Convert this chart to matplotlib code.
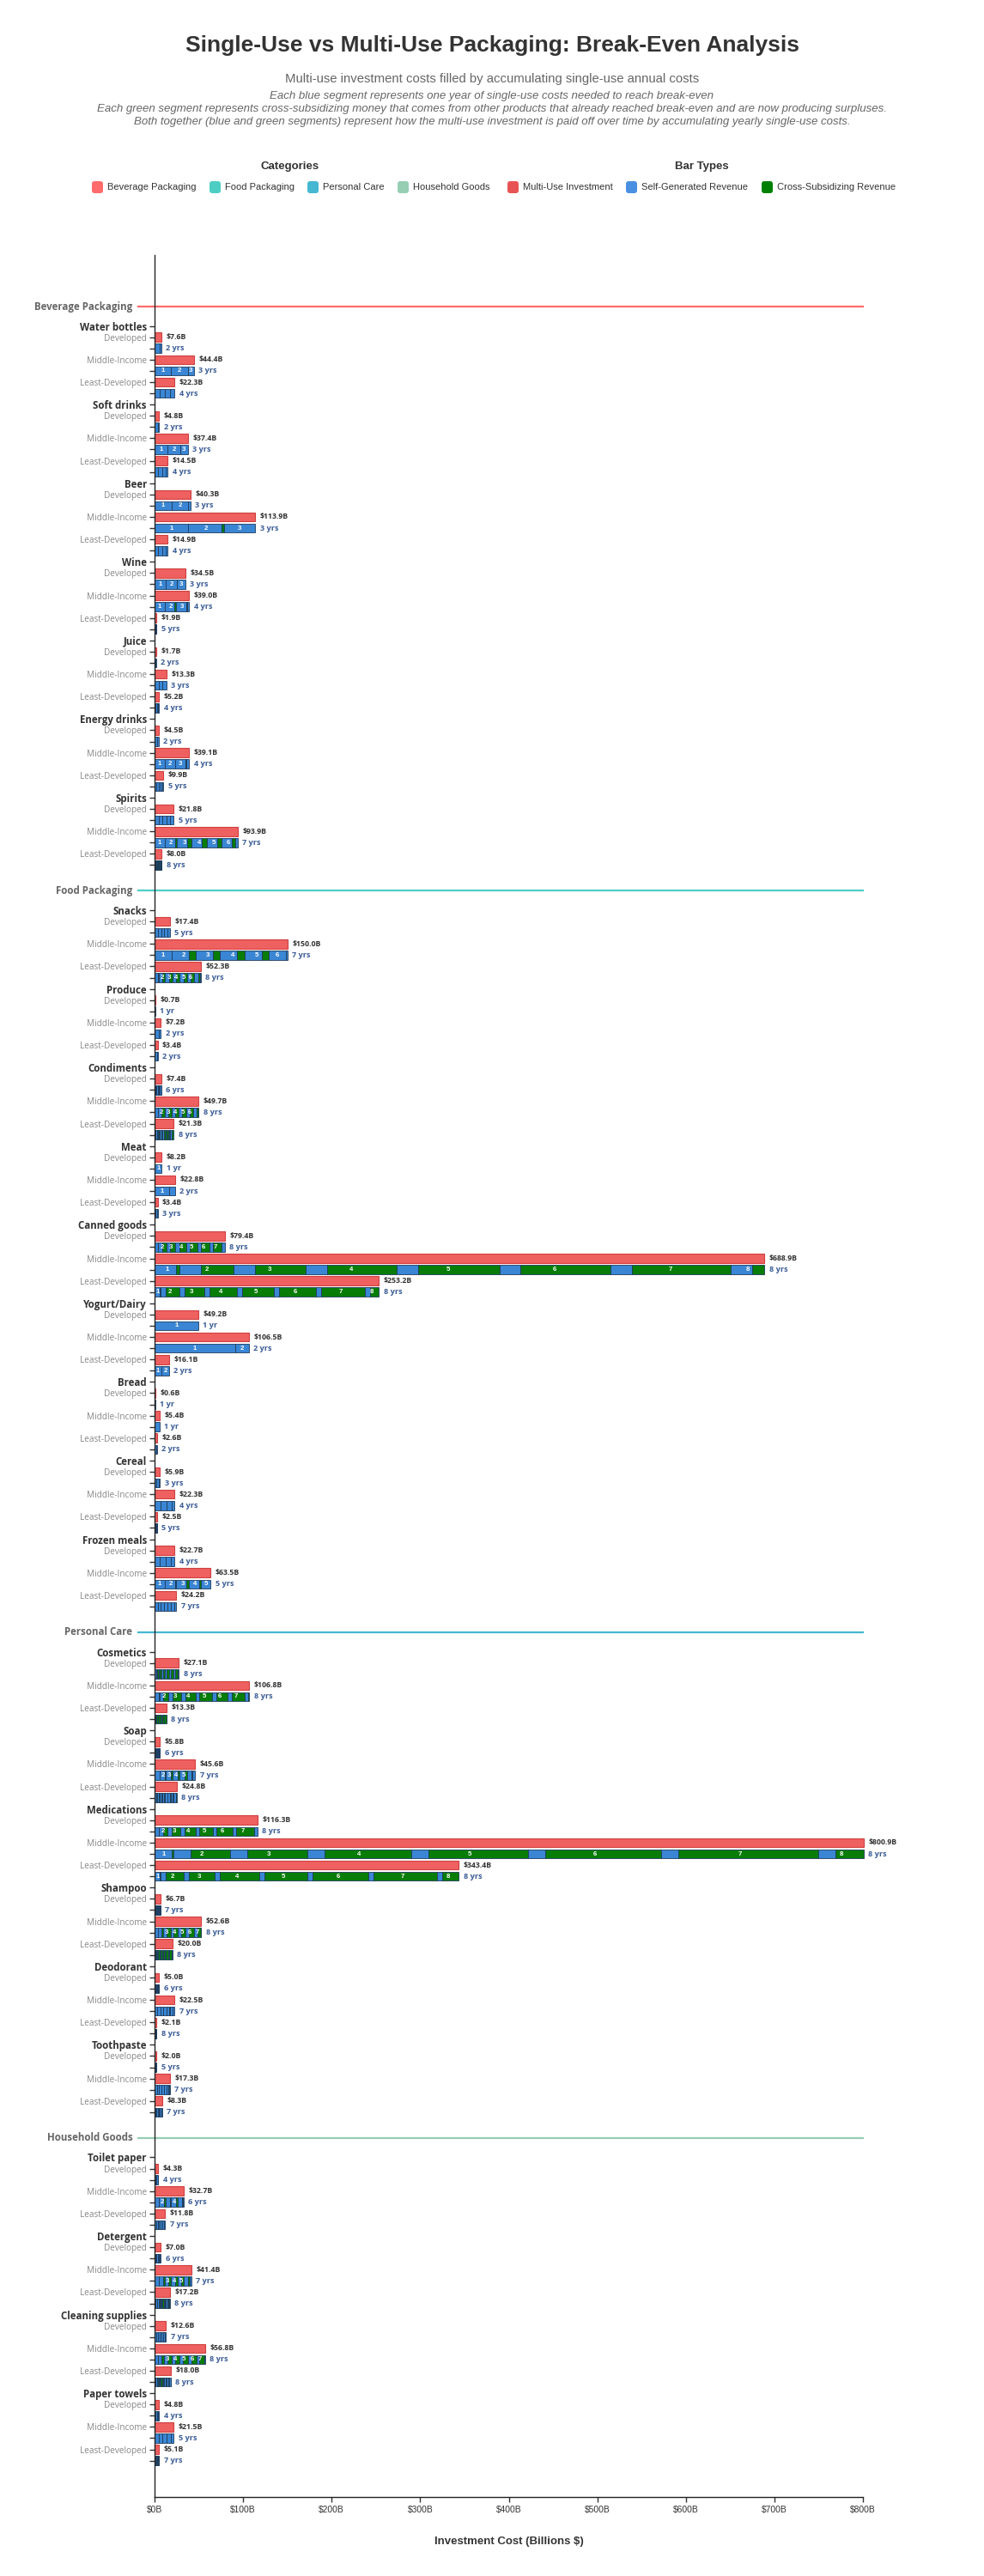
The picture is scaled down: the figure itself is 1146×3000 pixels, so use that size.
import matplotlib.pyplot as plt
from matplotlib.patches import FancyBboxPatch

categories = ['Beverage Packaging', 'Food Packaging', 'Personal Care', 'Household Goods']
category_colors = ['#FF6B6B', '#4ECDC4', '#45B7D1', '#96CEB4']
category_products = [
    ['Water bottles', 'Soft drinks', 'Beer', 'Wine', 'Juice', 'Energy drinks', 'Spirits'],
    ['Snacks', 'Produce', 'Condiments', 'Meat', 'Canned goods', 'Yogurt/Dairy', 'Bread',
     'Cereal', 'Frozen meals'],
    ['Cosmetics', 'Soap', 'Medications', 'Shampoo', 'Deodorant', 'Toothpaste'],
    ['Toilet paper', 'Detergent', 'Cleaning supplies', 'Paper towels'],
]
regions = ['Developed', 'Middle-Income', 'Least-Developed']

# multi-use investment, billions $ (Developed, Middle-Income, Least-Developed)
investment = {
    'Water bottles': [7.6, 44.4, 22.3], 'Soft drinks': [4.8, 37.4, 14.5],
    'Beer': [40.3, 113.9, 14.9], 'Wine': [34.5, 39.0, 1.9], 'Juice': [1.7, 13.3, 5.2],
    'Energy drinks': [4.5, 39.1, 9.9], 'Spirits': [21.8, 93.9, 8.0],
    'Snacks': [17.4, 150.0, 52.3], 'Produce': [0.7, 7.2, 3.4], 'Condiments': [7.4, 49.7, 21.3],
    'Meat': [8.2, 22.8, 3.4], 'Canned goods': [79.4, 688.9, 253.2],
    'Yogurt/Dairy': [49.2, 106.5, 16.1], 'Bread': [0.6, 5.4, 2.6], 'Cereal': [5.9, 22.3, 2.5],
    'Frozen meals': [22.7, 63.5, 24.2],
    'Cosmetics': [27.1, 106.8, 13.3], 'Soap': [5.8, 45.6, 24.8],
    'Medications': [116.3, 800.9, 343.4], 'Shampoo': [6.7, 52.6, 20.0],
    'Deodorant': [5.0, 22.5, 2.1], 'Toothpaste': [2.0, 17.3, 8.3],
    'Toilet paper': [4.3, 32.7, 11.8], 'Detergent': [7.0, 41.4, 17.2],
    'Cleaning supplies': [12.6, 56.8, 18.0], 'Paper towels': [4.8, 21.5, 5.1],
}

# years until break-even
break_even_years = {
    'Water bottles': [2, 3, 4], 'Soft drinks': [2, 3, 4], 'Beer': [3, 3, 4], 'Wine': [3, 4, 5],
    'Juice': [2, 3, 4], 'Energy drinks': [2, 4, 5], 'Spirits': [5, 7, 8],
    'Snacks': [5, 7, 8], 'Produce': [1, 2, 2], 'Condiments': [6, 8, 8], 'Meat': [1, 2, 3],
    'Canned goods': [8, 8, 8], 'Yogurt/Dairy': [1, 2, 2], 'Bread': [1, 1, 2], 'Cereal': [3, 4, 5],
    'Frozen meals': [4, 5, 7],
    'Cosmetics': [8, 8, 8], 'Soap': [6, 7, 8], 'Medications': [8, 8, 8], 'Shampoo': [7, 8, 8],
    'Deodorant': [6, 7, 8], 'Toothpaste': [5, 7, 7],
    'Toilet paper': [4, 6, 7], 'Detergent': [6, 7, 8], 'Cleaning supplies': [7, 8, 8],
    'Paper towels': [4, 5, 7],
}

# yearly single-use cost (blue segment), billions $
annual_single_use = {
    'Water bottles': [5.5, 18.7, 5.8], 'Soft drinks': [3.6, 14.5, 4.2], 'Beer': [19.1, 37.8, 4.3],
    'Wine': [12.8, 11.2, 0.4], 'Juice': [1.0, 4.6, 1.4], 'Energy drinks': [3.0, 11.6, 2.2],
    'Spirits': [4.4, 11.6, 0.6],
    'Snacks': [3.7, 19.4, 4.0], 'Produce': [0.8, 5.0, 2.5], 'Condiments': [1.1, 3.9, 1.2],
    'Meat': [9.0, 16.8, 1.3], 'Canned goods': [4.0, 23.8, 6.0], 'Yogurt/Dairy': [52.0, 91.2, 8.1],
    'Bread': [0.7, 6.0, 1.6], 'Cereal': [2.3, 6.6, 0.4], 'Frozen meals': [6.3, 11.6, 3.5],
    'Cosmetics': [1.5, 4.5, 0.5], 'Soap': [0.8, 5.5, 2.4], 'Medications': [4.5, 19.2, 5.8],
    'Shampoo': [0.8, 3.5, 1.0], 'Deodorant': [0.8, 3.2, 0.1], 'Toothpaste': [0.45, 2.6, 1.1],
    'Toilet paper': [1.2, 5.0, 1.7], 'Detergent': [1.2, 4.5, 1.2],
    'Cleaning supplies': [1.8, 3.8, 1.2], 'Paper towels': [1.3, 4.6, 0.5],
}

# cross-subsidy received each year (green segment), billions $
cross_subsidy = {
    'Beer': [[], [0, 2.5], []],
    'Wine': [[], [0, 2.2, 0.6], [0, 0.05, 0.05, 0.05]],
    'Energy drinks': [[], [0, 0, 0.8], [0, 0.05, 0.05, 0.05]],
    'Spirits': [[0, 0.05, 0.05, 0.05], [0, 2.0, 5.0, 5.5, 5.0, 4.5],
                [0, 0.2, 0.4, 0.5, 0.6, 0.7, 0.8]],
    'Snacks': [[], [0, 7.4, 8.1, 9.0, 7.1], [0.5, 3.5, 4.0, 4.5, 4.5, 4.0, 2.5]],
    'Condiments': [[0, 0.1, 0.2, 0.2, 0.2], [0.4, 3.4, 4.0, 4.2, 4.3, 4.0, 1.8],
                   [0.1, 1.0, 1.5, 1.8, 1.8, 1.7, 1.5]],
    'Canned goods': [[0.3, 4.8, 6.6, 8.2, 8.4, 9.6, 9.6],
                     [4.5, 37.2, 58.0, 78.9, 91.8, 101.7, 112.0],
                     [0.9, 14.8, 22.8, 30.7, 35.7, 41.6, 48.6]],
    'Cereal': [[], [], [0, 0.1, 0.15, 0.2]],
    'Frozen meals': [[], [0, 1.2, 3.0, 1.6], [0, 0.2, 0.3, 0.3, 0.2, 0.2]],
    'Cosmetics': [[0.1, 1.4, 2.0, 2.6, 3.0, 3.3, 3.5], [1.0, 5.9, 9.7, 11.7, 14.3, 13.0, 14.3],
                  [0.1, 0.8, 1.2, 1.5, 1.8, 2.0, 2.2]],
    'Soap': [[0, 0.1, 0.1, 0.2, 0.2], [0.5, 1.5, 2.0, 2.5, 2.5, 1.0],
             [0.1, 0.5, 0.7, 0.8, 0.9, 1.0, 1.0]],
    'Medications': [[0.3, 5.5, 10.0, 12.5, 15.0, 17.5, 20.0],
                    [2.1, 44.6, 68.1, 98.3, 112.9, 130.8, 158.8],
                    [1.2, 20.2, 29.2, 44.2, 49.2, 62.2, 72.2]],
    'Shampoo': [[0, 0.1, 0.1, 0.2, 0.2, 0.2], [0.3, 2.4, 4.9, 4.9, 5.2, 5.8, 4.0],
                [0.1, 1.0, 1.6, 2.0, 2.3, 2.6, 2.8]],
    'Deodorant': [[0, 0.1, 0.1, 0.1, 0.1], [0, 0.2, 0.3, 0.3, 0.2, 0.2],
                  [0, 0.1, 0.15, 0.2, 0.25, 0.3, 0.3]],
    'Toothpaste': [[], [0, 0, 0.1, 0.1, 0.1, 0.1], [0, 0.1, 0.2, 0.2, 0.2, 0.2]],
    'Toilet paper': [[], [0.3, 2.0, 1.5, 2.0, 1.5], []],
    'Detergent': [[], [0.3, 2.0, 2.5, 3.0, 3.0, 2.0], [0.1, 0.8, 1.0, 1.2, 1.3, 1.4, 1.5]],
    'Cleaning supplies': [[0, 0.1, 0.1, 0.1, 0.1, 0.1], [0.3, 2.5, 5.0, 5.3, 5.6, 5.6, 5.0],
                          [0.1, 0.9, 1.2, 1.4, 1.5, 1.6, 1.7]],
    'Paper towels': [[], [], [0, 0.2, 0.3, 0.4, 0.4, 0.4]],
}

xticks = [0, 100, 200, 300, 400, 500, 600, 700, 800]

INVEST_COLOR = '#ef6060'
INVEST_EDGE = '#d04040'
BLUE = '#3a86d4'
GREEN = '#077d07'
SEG_EDGE = '#1e3a5c'
SANS = 'Liberation Sans'

W, H = 1146, 3000
fig = plt.figure(figsize=(W / 100, H / 100), dpi=100)
ax = fig.add_axes([180 / W, 1 - 2908 / H, 825 / W, (2908 - 297) / H])
ax.set_xlim(0, 800)
ax.set_ylim(2908, 297)

ROW = 13.08
BAR_H = 10.6
y = 357.0
tick_pos, tick_text, tick_kind = [], [], []
ytf = ax.get_yaxis_transform()

for cat, ccolor, prods in zip(categories, category_colors, category_products):
    ax.text(-0.031, y, cat, transform=ytf, ha='right', va='center', fontsize=8.3,
            fontweight='bold', color='#666666', family='Open Sans')
    ax.plot([-0.023, 1.0], [y, y], transform=ytf, color=ccolor, lw=1.6, clip_on=False)
    y += 22.6
    for prod in prods:
        tick_pos.append(y); tick_text.append(prod); tick_kind.append('product')
        for r, reg in enumerate(regions):
            yi = y + ROW * (1 + 2 * r)
            yr = yi + ROW
            tick_pos += [yi, yr]; tick_text += [reg, '']; tick_kind += ['region', 'blank']
            inv = investment[prod][r]
            nyr = break_even_years[prod][r]
            annual = annual_single_use[prod][r]
            subs = cross_subsidy.get(prod, [[], [], []])[r]

            ax.barh(yi, inv, height=BAR_H, color=INVEST_COLOR, edgecolor=INVEST_EDGE, lw=0.8,
                    clip_on=False)
            ax.annotate(f'${inv:.1f}B', (inv, yi), xytext=(4, 0), textcoords='offset points',
                        va='center', ha='left', fontsize=6.3, fontweight='bold', color='#333333',
                        family='Open Sans', annotation_clip=False)

            rem = inv
            x0 = 0.0
            for k in range(nyr):
                blue = min(annual, rem)
                rem -= blue
                if k == nyr - 1:
                    green = rem
                else:
                    green = min(subs[k] if k < len(subs) else 0.0, rem)
                rem -= green
                ax.barh(yr, blue, left=x0, height=BAR_H, color=BLUE, edgecolor=SEG_EDGE, lw=0.6,
                        clip_on=False)
                if green > 0:
                    ax.barh(yr, green, left=x0 + blue, height=BAR_H, color=GREEN,
                            edgecolor=SEG_EDGE, lw=0.6, clip_on=False)
                span = blue + green
                if span >= 6.8:
                    ax.text(x0 + span / 2, yr, str(k + 1), ha='center', va='center',
                            fontsize=5.6, fontweight='bold', color='white', family=SANS,
                            clip_on=False)
                x0 += span
            ylab = '1 yr' if nyr == 1 else f'{nyr} yrs'
            ax.annotate(ylab, (inv, yr), xytext=(4, 0), textcoords='offset points',
                        va='center', ha='left', fontsize=6.6, fontweight='bold', color='#3a5c96',
                        family='Open Sans', annotation_clip=False)
        y += 7 * ROW
    y += 30 - ROW

ax.set_yticks(tick_pos)
ax.set_yticklabels(tick_text)
for lab, kind in zip(ax.get_yticklabels(), tick_kind):
    lab.set_family('Open Sans')
    if kind == 'product':
        lab.set_fontsize(8.3)
        lab.set_fontweight('bold')
        lab.set_color('#333333')
    else:
        lab.set_fontsize(7.2)
        lab.set_color('#888888')
ax.tick_params(axis='y', length=4.5, width=1, color='#333333', pad=2)

ax.set_xticks(xticks)
ax.set_xticklabels([f'${v}B' for v in xticks], fontsize=7.4, color='#333333', family=SANS)
ax.tick_params(axis='x', length=4.5, width=1, color='#333333', pad=3)
for side in ['top', 'right']:
    ax.spines[side].set_visible(False)
for side in ['left', 'bottom']:
    ax.spines[side].set_color('#222222')
    ax.spines[side].set_linewidth(1)

fig.text(0.5 * (180 + 1005) / W, 1 - 2960 / H, 'Investment Cost (Billions $)', ha='center',
         va='center', fontsize=9.5, fontweight='bold', color='#333333', family=SANS)

# header
fig.text(0.5, 1 - 53 / H, 'Single-Use vs Multi-Use Packaging: Break-Even Analysis',
         ha='center', va='center', fontsize=19, fontweight='bold', color='#333333', family=SANS)
fig.text(0.5, 1 - 92 / H, 'Multi-use investment costs filled by accumulating single-use annual costs',
         ha='center', va='center', fontsize=10.7, color='#666666', family=SANS)
notes = [
    'Each blue segment represents one year of single-use costs needed to reach break-even',
    'Each green segment represents cross-subsidizing money that comes from other products that '
    'already reached break-even and are now producing surpluses.',
    'Both together (blue and green segments) represent how the multi-use investment is paid off '
    'over time by accumulating yearly single-use costs.',
]
for i, line in enumerate(notes):
    fig.text(0.5, 1 - (112 + 15 * i) / H, line, ha='center', va='center', fontsize=9.5,
             style='italic', color='#666666', family=SANS)

# legend
fig.text(338 / W, 1 - 194 / H, 'Categories', ha='center', va='center', fontsize=9.5,
         fontweight='bold', color='#333333', family=SANS)
fig.text(817 / W, 1 - 194 / H, 'Bar Types', ha='center', va='center', fontsize=9.5,
         fontweight='bold', color='#333333', family=SANS)
legend_items = categories + ['Multi-Use Investment', 'Self-Generated Revenue',
                             'Cross-Subsidizing Revenue']
legend_colors = category_colors + ['#e85454', '#4a90e2', '#008000']
legend_left = [107, 244, 358, 463, 591, 729, 887]
for name, col, lx in zip(legend_items, legend_colors, legend_left):
    sw = FancyBboxPatch((lx / W, 1 - 225 / H), 13 / W, 14 / H,
                        boxstyle='round,pad=0,rounding_size=0.0026', mutation_aspect=W / H,
                        transform=fig.transFigure, facecolor=col, edgecolor='none')
    fig.add_artist(sw)
    fig.text((lx + 18) / W, 1 - 218 / H, name, ha='left', va='center', fontsize=8,
             color='#333333', family=SANS)

fig.savefig('out.png', dpi=100)
